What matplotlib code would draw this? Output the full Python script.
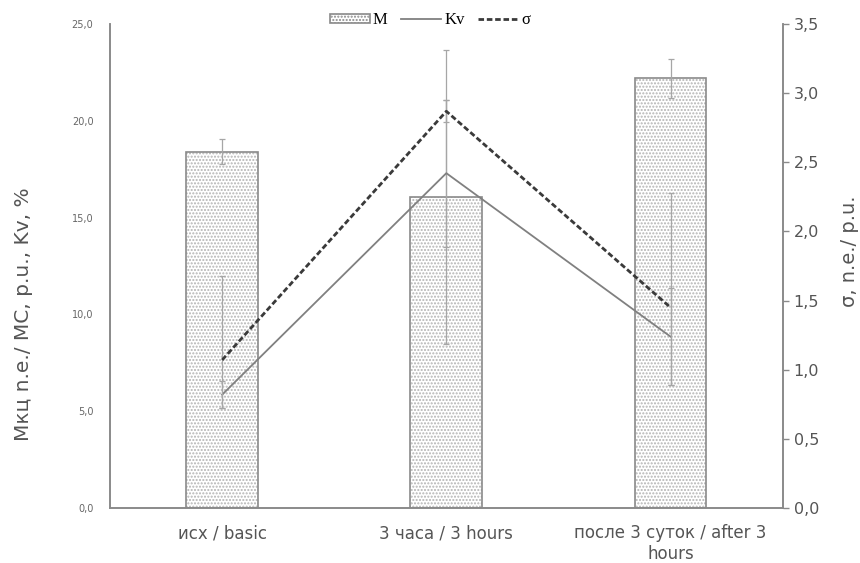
import numpy as np
import matplotlib.pyplot as plt
from matplotlib.ticker import FuncFormatter
from matplotlib.patches import Patch
from matplotlib.lines import Line2D

plt.rcParams['font.family'] = ['DejaVu Sans']

# данные
categories = ['исх / basic', '3 часа / 3 hours', 'после 3 суток / after 3\nhours']
M = [18.4, 16.05, 22.2]
M_err = [0.65, 7.6, 1.0]
Kv = [5.85, 17.3, 8.85]
Kv_err = [0.7, 3.8, 2.5]
sigma = [1.07, 2.87, 1.45]
sigma_err_low = [0.35, 0.08, 0.56]
sigma_err_high = [0.61, 0.08, 0.83]

x = np.arange(len(categories))
grey = '#8a8a8a'
err_kw = dict(fmt='none', ecolor='#a6a6a6', elinewidth=0.9, capsize=2.5, capthick=0.9, zorder=3)

fig = plt.figure(figsize=(8.6, 5.63), dpi=100)
ax = fig.add_axes([0.128, 0.098, 0.782, 0.859])
ax2 = ax.twinx()

# столбцы M: штриховка + контур
ax.bar(x, M, width=0.32, color='white', edgecolor='#b4b4b4', hatch='.....', linewidth=0, zorder=1)
ax.bar(x, M, width=0.32, fill=False, edgecolor=grey, linewidth=1.2, zorder=2)
ax.errorbar(x, M, yerr=M_err, **err_kw)

# Kv - левая ось
ax.plot(x, Kv, '-', color='#808080', linewidth=1.3, zorder=4)
ax.errorbar(x, Kv, yerr=Kv_err, **err_kw)

# sigma - правая ось
ax2.plot(x, sigma, color='#3a3a3a', linewidth=2, linestyle=(0, (2, 1)), zorder=4)
ax2.errorbar(x, sigma, yerr=[sigma_err_low, sigma_err_high], **err_kw)

ax.set_xlim(-0.5, 2.5)
ax.set_ylim(0, 25)
ax2.set_ylim(0, 3.5)
ax.set_yticks(np.arange(0, 25.1, 5))
ax2.set_yticks(np.arange(0, 3.51, 0.5))

comma1 = FuncFormatter(lambda v, p: f'{v:.1f}'.replace('.', ','))
ax.yaxis.set_major_formatter(comma1)
ax2.yaxis.set_major_formatter(comma1)

ax.set_xticks(x)
ax.set_xticklabels(categories, fontsize=12, color='#555555')
ax.tick_params(axis='x', length=0, pad=12)
ax.tick_params(axis='y', length=0, labelsize=7, colors='#666666', pad=12)
ax2.tick_params(axis='y', length=4, width=1, color=grey, labelsize=11.5, labelcolor='#555555', pad=4)

for a in (ax, ax2):
    a.spines['top'].set_visible(False)
    for s in ('left', 'right', 'bottom'):
        a.spines[s].set_color(grey)
        a.spines[s].set_linewidth(1.2)

ax.set_ylabel('Мкц n.e./ MC, p.u., Kv, %', fontsize=14.5, color='#555555')
ax.yaxis.set_label_coords(-0.115, 0.40)
ax2.set_ylabel('σ, n.e./ p.u.', fontsize=14, color='#555555', rotation=90)
ax2.yaxis.set_label_coords(1.085, 0.53)

handles = [
    Patch(facecolor='white', edgecolor=grey, hatch='.....', linewidth=1.2),
    Line2D([], [], color='#808080', linewidth=1.3),
    Line2D([], [], color='#3a3a3a', linewidth=2, linestyle=(0, (2, 1))),
]
fig.legend(handles, ['M', 'Kv', 'σ'], loc='upper center', bbox_to_anchor=(0.5, 1.005),
           ncol=3, frameon=False, handlelength=2.4, handleheight=0.5, columnspacing=0.8,
           handletextpad=0.2, prop={'family': ['Liberation Serif'], 'size': 12})

fig.savefig('out.png', dpi=100)
